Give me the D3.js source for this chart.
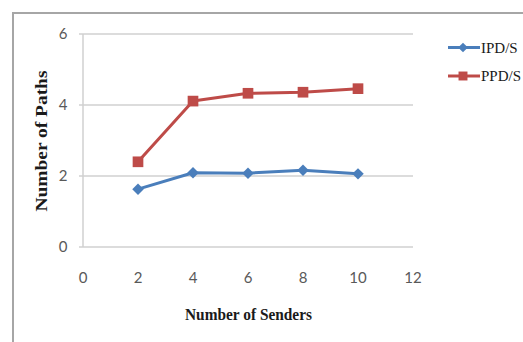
<!DOCTYPE html>
<html>
<head>
<meta charset="utf-8">
<script src="https://cdn.jsdelivr.net/npm/d3@7"></script>
<style>
  html, body { margin: 0; padding: 0; background: #fff; }
  svg { display: block; }
</style>
</head>
<body>
<svg id="chart" width="523" height="342"></svg>
<script>
const senders = [2, 4, 6, 8, 10];
const ipd = [1.63, 2.09, 2.08, 2.16, 2.06];
const ppd = [2.40, 4.11, 4.33, 4.36, 4.46];
const xTicks = [0, 2, 4, 6, 8, 10, 12];
const yTicks = [0, 2, 4, 6];
const seriesNames = ["IPD/S", "PPD/S"];
const colors = ["#4a7ebb", "#be4b48"];

const svg = d3.select("#chart");

// outer chart border
svg.append("path")
  .attr("d", "M13,342 L13,13 L523,13")
  .attr("fill", "none").attr("stroke", "#a6a6a6").attr("stroke-width", 2);

const x = d3.scaleLinear().domain([0, 12]).range([83, 413]);
const y = d3.scaleLinear().domain([0, 6]).range([247, 34]);

// gridlines
svg.append("g").selectAll("line").data(yTicks.filter(d => d > 0)).join("line")
  .attr("x1", x(0) - 4).attr("x2", x(12))
  .attr("y1", d => y(d)).attr("y2", d => y(d))
  .attr("stroke", "#d0d0d0").attr("stroke-width", 1.5);

// axes lines
svg.append("line").attr("x1", x(0)).attr("x2", x(0)).attr("y1", y(6)).attr("y2", y(0))
  .attr("stroke", "#d0d0d0").attr("stroke-width", 1.5);
svg.append("line").attr("x1", x(0) - 4).attr("x2", x(12)).attr("y1", y(0)).attr("y2", y(0))
  .attr("stroke", "#d0d0d0").attr("stroke-width", 1.5);

const tickFont = "Lato, 'Liberation Sans', sans-serif";
// y tick labels
svg.append("g").selectAll("text").data(yTicks).join("text")
  .attr("x", 63).attr("y", d => y(d)).attr("dy", "0.36em")
  .attr("text-anchor", "middle")
  .attr("font-family", tickFont).attr("font-size", 15).attr("fill", "#595959")
  .text(d => d);
// x tick labels
svg.append("g").selectAll("text").data(xTicks).join("text")
  .attr("x", d => x(d)).attr("y", 278).attr("dy", "0.36em")
  .attr("text-anchor", "middle")
  .attr("font-family", tickFont).attr("font-size", 15).attr("fill", "#595959")
  .text(d => d);

// axis titles
svg.append("text")
  .attr("x", 248.5).attr("y", 320)
  .attr("text-anchor", "middle")
  .attr("font-family", "'Liberation Serif', 'Times New Roman', serif")
  .attr("font-weight", "bold").attr("font-size", 17).attr("fill", "#1a1a1a")
  .attr("textLength", 127).attr("lengthAdjust", "spacingAndGlyphs")
  .text("Number of Senders");
svg.append("text")
  .attr("transform", "translate(47,141) rotate(-90)")
  .attr("text-anchor", "middle")
  .attr("font-family", "'Liberation Serif', 'Times New Roman', serif")
  .attr("font-weight", "bold").attr("font-size", 17).attr("fill", "#1a1a1a")
  .attr("textLength", 141).attr("lengthAdjust", "spacingAndGlyphs")
  .text("Number of Paths");

const line = d3.line().x((d, i) => x(senders[i])).y(d => y(d));
const series = [ipd, ppd];
const symTypes = [d3.symbolDiamond2 || d3.symbolDiamond, d3.symbolSquare];

series.forEach((vals, si) => {
  svg.append("path").datum(vals)
    .attr("d", line)
    .attr("fill", "none").attr("stroke", colors[si]).attr("stroke-width", 3)
    .attr("stroke-linejoin", "round");
  const size = si === 0 ? 84 : 114;
  svg.append("g").selectAll("path").data(vals).join("path")
    .attr("transform", (d, i) => `translate(${x(senders[i])},${y(d)})`)
    .attr("d", d3.symbol().type(symTypes[si]).size(size))
    .attr("fill", colors[si]);
});

// legend
const legendY = [47.5, 76];
seriesNames.forEach((name, si) => {
  const g = svg.append("g").attr("transform", `translate(448,${legendY[si]})`);
  g.append("line").attr("x1", 0).attr("x2", 32).attr("y1", 0).attr("y2", 0)
    .attr("stroke", colors[si]).attr("stroke-width", 3);
  g.append("path").attr("transform", "translate(15,0)")
    .attr("d", d3.symbol().type(symTypes[si]).size(si === 0 ? 60 : 80))
    .attr("fill", colors[si]);
  g.append("text").attr("x", 33).attr("y", 0).attr("dy", "0.34em")
    .attr("font-family", "'Liberation Serif', 'Times New Roman', serif")
    .attr("font-size", 15).attr("fill", "#1a1a1a")
    .text(name);
});
</script>
</body>
</html>
